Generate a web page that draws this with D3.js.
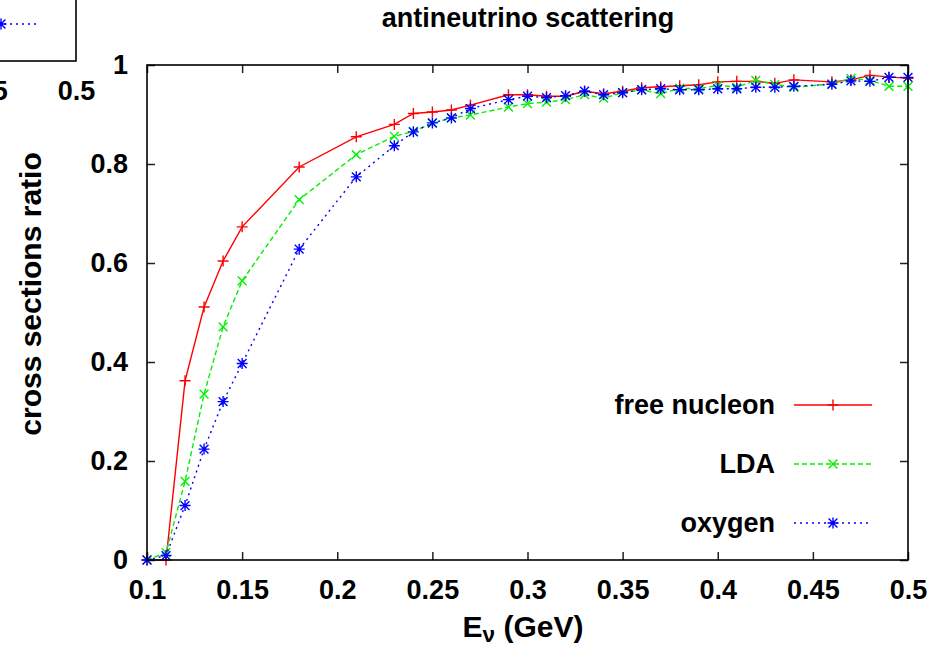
<!DOCTYPE html>
<html>
<head>
<meta charset="utf-8">
<script src="https://cdn.jsdelivr.net/npm/d3@7"></script>
<style>
  html, body { margin: 0; padding: 0; background: #fff; }
  svg { display: block; }
  text { font-family: "Liberation Sans", Arial, Helvetica, sans-serif; fill: #000; }
</style>
</head>
<body>
<svg id="chart" width="949" height="651"></svg>
<script>
// Neutrino energies (GeV) at which the ratios were computed
const energy = [0.10, 0.11, 0.12, 0.13, 0.14, 0.15, 0.18, 0.21, 0.23, 0.24, 0.25, 0.26, 0.27,
  0.29, 0.30, 0.31, 0.32, 0.33, 0.34, 0.35, 0.36, 0.37, 0.38, 0.39, 0.40, 0.41, 0.42,
  0.43, 0.44, 0.46, 0.47, 0.48, 0.49, 0.50];

// Cross section ratios, one array per model
const freeNucleon = [0, 0, 0.362, 0.511, 0.604, 0.673, 0.794, 0.855, 0.880, 0.902, 0.905, 0.909, 0.919,
  0.940, 0.940, 0.937, 0.937, 0.947, 0.942, 0.947, 0.954, 0.956, 0.958, 0.960, 0.966, 0.967, 0.967,
  0.963, 0.970, 0.966, 0.970, 0.979, 0.976, 0.973];
const lda = [0, 0.015, 0.159, 0.335, 0.471, 0.564, 0.728, 0.819, 0.856, 0.866, 0.882, 0.893, 0.899,
  0.915, 0.922, 0.925, 0.930, 0.940, 0.933, 0.944, 0.950, 0.942, 0.953, 0.952, 0.959, 0.955, 0.969,
  0.961, 0.955, 0.962, 0.973, 0.969, 0.957, 0.957];
const oxygen = [0, 0.009, 0.110, 0.224, 0.320, 0.397, 0.628, 0.774, 0.837, 0.865, 0.883, 0.893, 0.912,
  0.930, 0.937, 0.934, 0.938, 0.947, 0.940, 0.944, 0.950, 0.952, 0.950, 0.950, 0.952, 0.952, 0.955,
  0.955, 0.957, 0.961, 0.968, 0.967, 0.975, 0.975];

const seriesNames = ["free nucleon", "LDA", "oxygen"];
const xTicks = [0.1, 0.15, 0.2, 0.25, 0.3, 0.35, 0.4, 0.45, 0.5];
const yTicks = [0, 0.2, 0.4, 0.6, 0.8, 1];
// the neighbouring panel only shows its last two energy labels
const xTicksNeighbour = [0.45, 0.5];

const title = "antineutrino scattering";
const yLabel = "cross sections ratio";

const styles = [
  { color: "#ff0000", dash: null, marker: "plus" },
  { color: "#00f000", dash: "5,3", marker: "cross" },
  { color: "#0000ff", dash: "2,4", marker: "star" }
];
const seriesValues = [freeNucleon, lda, oxygen];

const svg = d3.select("#chart");
const W = 949, H = 651;
const m = { left: 147, top: 65, right: 41, bottom: 91 };
const iw = W - m.left - m.right;
const ih = H - m.top - m.bottom;
const FS = 27;      // tick labels, legend, title
const FS_AX = 30;   // axis titles

const x = d3.scaleLinear().domain([0.1, 0.5]).range([0, iw]);
const y = d3.scaleLinear().domain([0, 1]).range([ih, 0]);

function markerPath(type, r) {
  const p = d3.path();
  if (type === "plus" || type === "star") {
    p.moveTo(-r, 0); p.lineTo(r, 0);
    p.moveTo(0, -r); p.lineTo(0, r);
  }
  if (type === "cross" || type === "star") {
    const d = r * 0.8;
    p.moveTo(-d, -d); p.lineTo(d, d);
    p.moveTo(-d, d); p.lineTo(d, -d);
  }
  return p.toString();
}

// Legend row: optional label, line sample and its marker, relative to a plot's frame
function legendRow(g, i, plotW, plotH, withLabel) {
  const st = styles[i];
  const cy = plotH - 155 + i * 59;
  const lx0 = plotW - 114, lx1 = plotW - 36, lmx = plotW - 75;
  if (withLabel) {
    g.append("text")
      .attr("x", plotW - 133).attr("y", cy).attr("dy", "0.35em")
      .attr("text-anchor", "end").attr("font-size", FS).attr("font-weight", "bold")
      .text(seriesNames[i]);
  }
  g.append("line")
    .attr("x1", lx0).attr("x2", lx1).attr("y1", cy).attr("y2", cy)
    .attr("stroke", st.color).attr("stroke-width", 1.4)
    .attr("stroke-dasharray", st.dash);
  g.append("path")
    .attr("transform", `translate(${lmx},${cy})`)
    .attr("d", markerPath(st.marker, 5.5))
    .attr("stroke", st.color).attr("stroke-width", 1.4).attr("fill", "none");
}

// Frame of the neighbouring panel (only its lower-right corner is in view)
const frag = svg.append("g").attr("transform", `translate(${76 - iw},${61 - ih})`);
frag.append("rect").attr("x", 0).attr("y", 0).attr("width", iw).attr("height", ih)
  .attr("fill", "none").attr("stroke", "#000").attr("stroke-width", 1.6);
legendRow(frag, 2, iw, ih, false);
const fragAxis = frag.append("g").attr("transform", `translate(0,${ih})`)
  .call(d3.axisBottom(x).tickValues(xTicksNeighbour).tickSize(0).tickPadding(20).tickFormat(d3.format("~g")));
fragAxis.select(".domain").remove();
fragAxis.selectAll("text").attr("font-size", FS).attr("font-weight", "bold").attr("font-family", null);

// Main panel
const g = svg.append("g").attr("transform", `translate(${m.left},${m.top})`);

// Inward ticks on all four sides
const tickLen = 8;
const tickAxes = [
  { ax: d3.axisBottom(x).tickValues(xTicks), tr: `translate(0,${ih})` },
  { ax: d3.axisTop(x).tickValues(xTicks), tr: `translate(0,0)` },
  { ax: d3.axisLeft(y).tickValues(yTicks), tr: `translate(0,0)` },
  { ax: d3.axisRight(y).tickValues(yTicks), tr: `translate(${iw},0)` }
];
tickAxes.forEach(t => {
  const a = g.append("g").attr("transform", t.tr)
    .call(t.ax.tickSize(-tickLen).tickFormat(""));
  a.select(".domain").remove();
  a.selectAll(".tick line").attr("stroke", "#222").attr("stroke-width", 1.5);
});

// Tick labels
const xLab = g.append("g").attr("transform", `translate(0,${ih})`)
  .call(d3.axisBottom(x).tickValues(xTicks).tickSize(0).tickPadding(20).tickFormat(d3.format("~g")));
xLab.select(".domain").remove();
xLab.selectAll("text").attr("font-size", FS).attr("font-weight", "bold").attr("font-family", null);

const yLab = g.append("g")
  .call(d3.axisLeft(y).tickValues(yTicks).tickSize(0).tickPadding(19).tickFormat(d3.format("~g")));
yLab.select(".domain").remove();
yLab.selectAll("text").attr("font-size", FS).attr("font-weight", "bold").attr("font-family", null);

// Data lines and markers
const line = d3.line().x(d => x(d[0])).y(d => y(d[1]));
seriesValues.forEach((vals, i) => {
  const st = styles[i];
  const pts = energy.map((e, k) => [e, vals[k]]);
  g.append("path").datum(pts)
    .attr("d", line)
    .attr("fill", "none").attr("stroke", st.color).attr("stroke-width", 1.4)
    .attr("stroke-dasharray", st.dash);
  g.append("g").selectAll("path").data(pts).join("path")
    .attr("transform", d => `translate(${x(d[0])},${y(d[1])})`)
    .attr("d", markerPath(st.marker, 5.5))
    .attr("fill", "none").attr("stroke", st.color).attr("stroke-width", 1.4);
});

// Frame
g.append("rect").attr("width", iw).attr("height", ih)
  .attr("fill", "none").attr("stroke", "#000").attr("stroke-width", 1.6);

// Legend
seriesNames.forEach((n, i) => legendRow(g, i, iw, ih, true));

// Title and axis labels
svg.append("text").attr("x", 528).attr("y", 27)
  .attr("text-anchor", "middle").attr("font-size", FS).attr("font-weight", "bold")
  .text(title);

const xl = svg.append("text").attr("x", 523).attr("y", 637)
  .attr("text-anchor", "middle").attr("font-size", FS_AX).attr("font-weight", "bold");
xl.append("tspan").text("E");
xl.append("tspan").attr("font-size", FS_AX * 0.75).attr("dy", 5).text("ν");
xl.append("tspan").attr("dy", -5).text(" (GeV)");

svg.append("text")
  .attr("transform", `translate(41,294) rotate(-90)`)
  .attr("text-anchor", "middle").attr("font-size", FS_AX).attr("font-weight", "bold")
  .text(yLabel);
</script>
</body>
</html>
